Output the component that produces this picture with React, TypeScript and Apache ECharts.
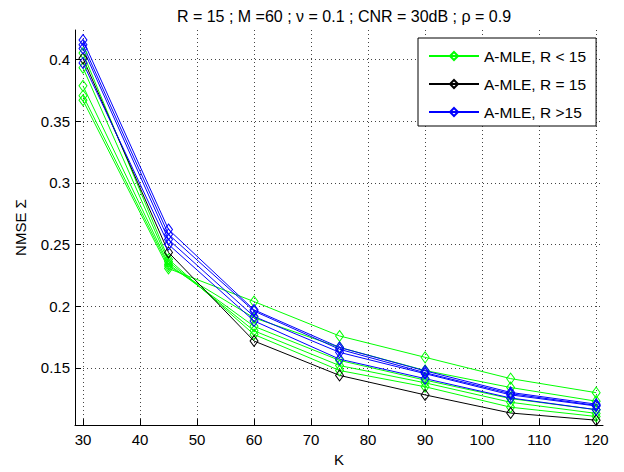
import React, { useEffect, useRef } from "react";
import * as echarts from "echarts";

const K = [30, 45, 60, 75, 90, 105, 120];
const xTicks = [30, 40, 50, 60, 70, 80, 90, 100, 110, 120];
const yTicks = [0.15, 0.2, 0.25, 0.3, 0.35, 0.4];

const greenSeries = [
  [0.367, 0.2305, 0.2037, 0.1758, 0.1585, 0.1412, 0.1298],
  [0.3707, 0.2325, 0.1905, 0.1665, 0.1478, 0.134, 0.1229],
  [0.3787, 0.234, 0.1836, 0.156, 0.14, 0.125, 0.116],
  [0.3934, 0.236, 0.18, 0.1518, 0.1378, 0.122, 0.113],
  [0.4053, 0.238, 0.177, 0.1478, 0.1346, 0.118, 0.1105],
];
const blackSeries = [0.401, 0.2436, 0.1717, 0.1438, 0.128, 0.1133, 0.1075];
const blueSeries = [
  [0.3973, 0.25, 0.188, 0.157, 0.1412, 0.1255, 0.116],
  [0.409, 0.254, 0.1916, 0.1625, 0.1452, 0.128, 0.119],
  [0.412, 0.2582, 0.196, 0.165, 0.146, 0.129, 0.1195],
  [0.4159, 0.2622, 0.197, 0.1665, 0.1475, 0.13, 0.1205],
];

const NAME_G = "A-MLE, R < 15";
const NAME_K = "A-MLE, R = 15";
const NAME_B = "A-MLE, R >15";
const FONT = "'Liberation Sans', Arial, Helvetica, sans-serif";

function mk(name: string, color: string, vals: number[]) {
  return {
    name,
    type: "line",
    data: K.map((k, i) => [k, vals[i]]),
    symbol: "diamond",
    symbolSize: [8, 11],
    lineStyle: { color, width: 1 },
    itemStyle: { color: "rgba(255,255,255,0)", borderColor: color, borderWidth: 1 },
    emphasis: { disabled: true },
  };
}

export default function App() {
  const ref = useRef<HTMLDivElement>(null);
  useEffect(() => {
    const chart = echarts.init(ref.current!, null, { renderer: "svg" });
    const series: any[] = [];
    greenSeries.forEach((v) => series.push(mk(NAME_G, "#00ff00", v)));
    series.push(mk(NAME_K, "#000000", blackSeries));
    blueSeries.forEach((v) => series.push(mk(NAME_B, "#0000ff", v)));
    chart.setOption({
      animation: false,
      backgroundColor: "#ffffff",
      textStyle: { fontFamily: FONT },
      title: {
        text: "R = 15 ; M =60 ; \u03bd = 0.1 ; CNR = 30dB ; \u03c1 = 0.9",
        left: 339,
        textAlign: "center",
        top: 3,
        textStyle: { fontFamily: FONT, fontSize: 16, fontWeight: "normal", color: "#000" },
      },
      grid: { left: 75, right: 21, top: 30, bottom: 40, containLabel: false },
      legend: {
        data: [NAME_G, NAME_K, NAME_B],
        orient: "vertical",
        left: 418,
        top: 38,
        itemWidth: 50,
        itemHeight: 10,
        itemGap: 12,
        padding: [10, 10, 6, 10],
        borderColor: "#000",
        borderWidth: 1,
        borderRadius: 0,
        backgroundColor: "#fff",
        selectedMode: false,
        textStyle: { fontFamily: FONT, fontSize: 15.5, color: "#000", padding: [0, 0, 0, 0] },
      },
      xAxis: {
        type: "value",
        min: 28.6,
        max: 121.2,
        name: "K",
        nameLocation: "middle",
        nameGap: 24,
        nameTextStyle: { fontFamily: FONT, fontSize: 15, color: "#000" },
        axisLine: { show: true, onZero: false, lineStyle: { color: "#000", width: 1 } },
        axisTick: { show: true, inside: true, length: 6, customValues: xTicks, lineStyle: { color: "#000" } },
        axisLabel: {
          customValues: xTicks,
          fontFamily: FONT,
          fontSize: 15,
          color: "#000",
          margin: 7,
          formatter: (v: number) => String(Math.round(v)),
        },
        splitLine: { show: true, lineStyle: { color: "#444", type: [1, 3], width: 1 } },
      },
      yAxis: {
        type: "value",
        min: 0.1035,
        max: 0.424,
        name: "NMSE \u03a3",
        nameLocation: "middle",
        nameGap: 47,
        nameRotate: 90,
        nameTextStyle: { fontFamily: FONT, fontSize: 15, color: "#000" },
        axisLine: { show: true, onZero: false, lineStyle: { color: "#000", width: 1 } },
        axisTick: { show: true, inside: true, length: 6, customValues: yTicks, lineStyle: { color: "#000" } },
        axisLabel: {
          customValues: yTicks,
          fontFamily: FONT,
          fontSize: 15,
          color: "#000",
          margin: 5,
          formatter: (v: number) => String(+v.toFixed(2)),
        },
        splitLine: { show: true, lineStyle: { color: "#444", type: [1, 3], width: 1 } },
      },
      series,
    });
    return () => chart.dispose();
  }, []);
  return (
    <div
      ref={ref}
      style={{ position: "fixed", left: 0, top: 0, width: 624, height: 472, background: "#fff" }}
    />
  );
}
